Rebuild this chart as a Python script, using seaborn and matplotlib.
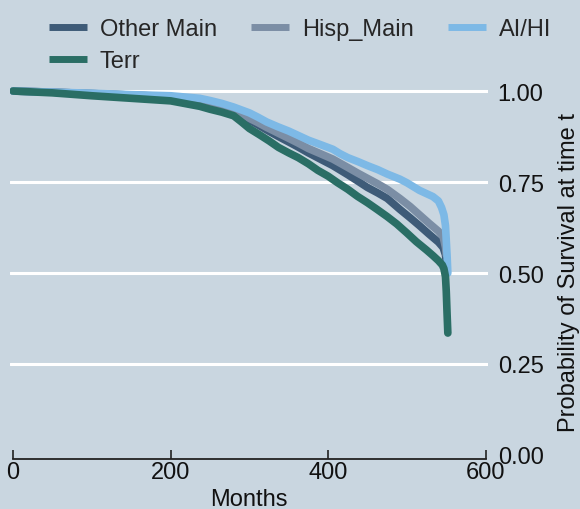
import pandas as pd
import matplotlib
matplotlib.use("Agg")
import matplotlib.pyplot as plt
import seaborn as sns

# survival curves (months, probability)
other_months = [0, 50, 100, 150, 200, 230, 250, 265, 279, 290, 300, 311, 322, 336, 350, 362, 375, 390, 406, 425, 438, 450, 463, 475, 491, 504, 516, 528, 540, 546, 549, 550]
other_surv = [1.0, 0.997, 0.993, 0.989, 0.984, 0.976, 0.965, 0.956, 0.945, 0.933, 0.92, 0.907, 0.893, 0.876, 0.86, 0.846, 0.83, 0.813, 0.795, 0.77, 0.752, 0.735, 0.72, 0.705, 0.675, 0.652, 0.63, 0.607, 0.585, 0.57, 0.55, 0.53]

hisp_months = [0, 50, 100, 150, 200, 230, 250, 265, 279, 290, 300, 311, 322, 336, 350, 362, 375, 390, 406, 425, 438, 450, 463, 475, 491, 504, 516, 528, 540, 546, 549, 550]
hisp_surv = [1.0, 0.997, 0.993, 0.989, 0.985, 0.977, 0.966, 0.958, 0.948, 0.937, 0.925, 0.913, 0.90, 0.885, 0.87, 0.857, 0.842, 0.828, 0.813, 0.79, 0.774, 0.76, 0.745, 0.73, 0.705, 0.683, 0.66, 0.637, 0.615, 0.60, 0.57, 0.55]

aihi_months = [0, 50, 100, 150, 200, 237, 250, 265, 280, 290, 300, 311, 322, 336, 350, 362, 375, 390, 406, 415, 425, 438, 450, 463, 475, 491, 500, 516, 533, 540, 544, 547, 549, 551, 552]
aihi_surv = [1.0, 0.997, 0.994, 0.99, 0.987, 0.98, 0.974, 0.966, 0.956, 0.948, 0.94, 0.928, 0.915, 0.902, 0.89, 0.878, 0.865, 0.853, 0.84, 0.828, 0.817, 0.806, 0.795, 0.784, 0.772, 0.758, 0.748, 0.727, 0.71, 0.698, 0.68, 0.66, 0.63, 0.55, 0.50]

terr_months = [0, 50, 100, 150, 200, 237, 250, 265, 280, 290, 300, 312, 325, 337, 350, 362, 375, 387, 400, 412, 425, 437, 450, 462, 475, 487, 500, 512, 525, 533, 540, 545, 547, 549, 550, 551, 552]
terr_surv = [1.0, 0.995, 0.987, 0.98, 0.973, 0.958, 0.95, 0.942, 0.932, 0.915, 0.897, 0.881, 0.863, 0.845, 0.83, 0.817, 0.80, 0.782, 0.766, 0.748, 0.73, 0.711, 0.693, 0.675, 0.655, 0.635, 0.61, 0.586, 0.563, 0.548, 0.534, 0.522, 0.512, 0.49, 0.45, 0.39, 0.335]

groups = ["Other Main", "Hisp_Main", "AI/HI", "Terr"]
colors = ["#3e5b78", "#7b8ea5", "#7db9e6", "#2a6e65"]

frames = []
for g, m, s in zip(groups, [other_months, hisp_months, aihi_months, terr_months],
                   [other_surv, hisp_surv, aihi_surv, terr_surv]):
    frames.append(pd.DataFrame({"Months": m, "surv": s, "group": g}))
df = pd.concat(frames, ignore_index=True)

bg = "#c9d6e0"
sns.set_style("white")
plt.rcParams["font.family"] = ["Liberation Sans", "DejaVu Sans"]

fig = plt.figure(figsize=(5.8, 5.1), dpi=100, facecolor=bg)
ax = fig.add_axes([10 / 580, 0.0988, 478 / 580, 0.735])
ax.set_facecolor(bg)

sns.lineplot(data=df, x="Months", y="surv", hue="group", hue_order=groups,
             palette=colors, linewidth=5.5, sort=False, estimator=None,
             legend=False, ax=ax)

ax.set_xlim(-4, 603)
ax.set_ylim(-0.01, 1.02)
ax.set_xticks([0, 200, 400, 600])
ax.set_yticks([0, 0.25, 0.5, 0.75, 1.0])
ax.set_yticklabels(["0.00", "0.25", "0.50", "0.75", "1.00"])
ax.yaxis.tick_right()
ax.yaxis.set_label_position("right")
ax.grid(axis="y", color="white", linewidth=2.2)
ax.yaxis.get_gridlines()[0].set_visible(False)
ax.set_axisbelow(True)

for side in ["top", "left", "right"]:
    ax.spines[side].set_visible(False)
ax.spines["bottom"].set_bounds(0, 600)
ax.spines["bottom"].set_color("#222222")
ax.spines["bottom"].set_linewidth(1.3)

ax.tick_params(axis="x", bottom=True, direction="in", length=6.5, width=1.2, color="#222222",
               labelsize=17, pad=2, labelcolor="#111111")
ax.tick_params(axis="y", length=0, labelsize=17, pad=7, labelcolor="#111111")

ax.set_xlabel("Months", fontsize=17, labelpad=3, color="#111111")
ax.set_ylabel("Probability of Survival at time t", fontsize=17, labelpad=10, color="#111111")

handles = [plt.Line2D([], [], color=c, linewidth=5, solid_capstyle="butt") for c in colors]
order = [0, 3, 1, 2]
fig.legend([handles[i] for i in order], [groups[i] for i in order],
           loc="upper left", bbox_to_anchor=(49 / 580, 1 - 19 / 510), ncol=3,
           frameon=False, fontsize=17, handlelength=1.6, handletextpad=0.55,
           columnspacing=1.45, labelspacing=0.42, borderpad=0, borderaxespad=0)

fig.savefig("out.png", dpi=100, facecolor=bg)
